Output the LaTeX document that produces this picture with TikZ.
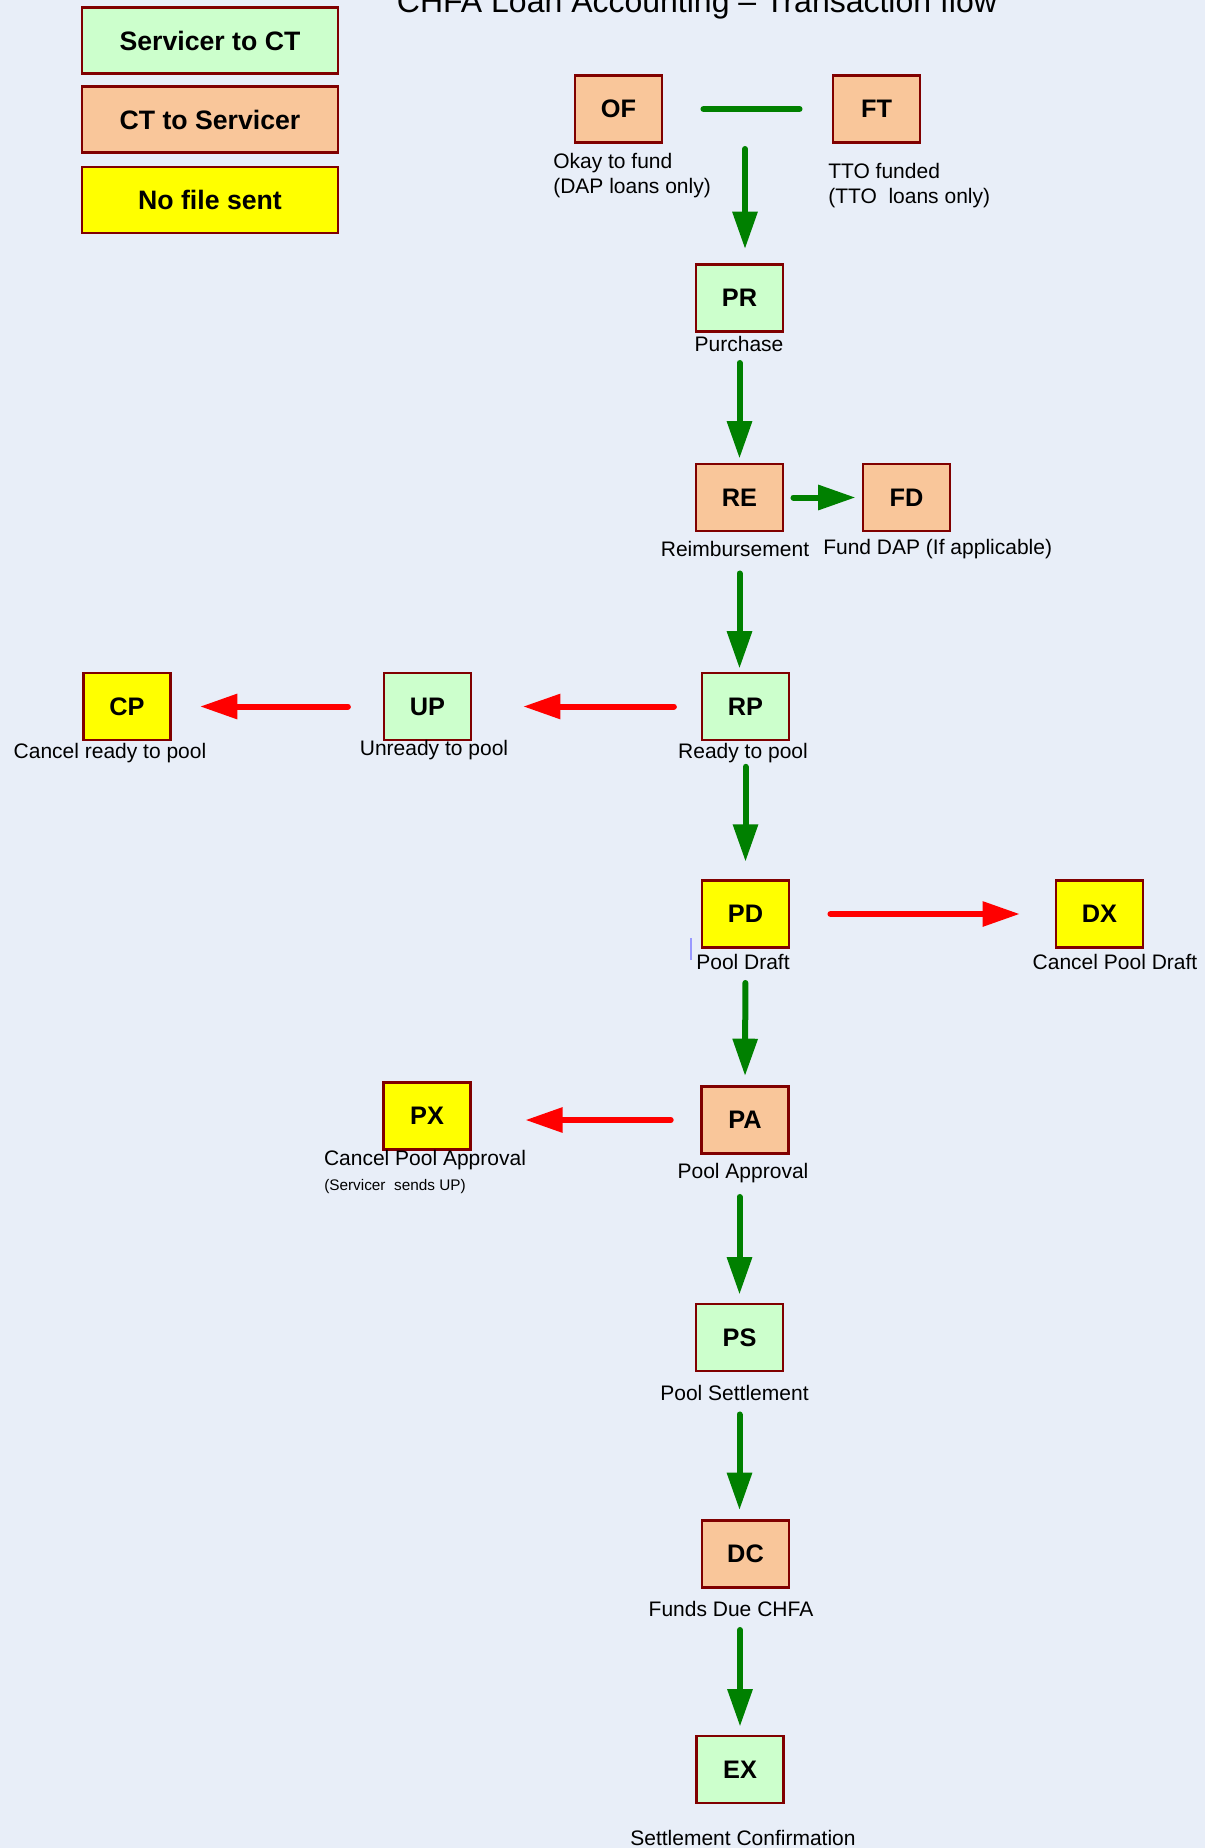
\documentclass[tikz,border=0pt]{standalone}
\usepackage{fontspec}
\setmainfont{Liberation Sans}
\usetikzlibrary{arrows.meta}

\definecolor       {pageColor}{RGB}{232, 238, 248}
\definecolor     {borderColor}{RGB}{128,   0,   0}
\definecolor   {servicerColor}{RGB}{204, 255, 204}
\definecolor         {ctColor}{RGB}{249, 198, 154}
\definecolor     {nofileColor}{RGB}{255, 255,   0}
\definecolor       {flowColor}{RGB}{  0, 128,   0}
\definecolor     {cancelColor}{RGB}{255,   0,   0}
\tikzset{
  code box/.style={draw=borderColor, line width=2.2pt, inner sep=0pt,
    minimum width=65.25pt, minimum height=50.25pt,
    font=\fontsize{19}{22}\selectfont\bfseries}}

\begin{document}
\begin{tikzpicture}[
  x=0.75pt, y=-0.75pt,
  legend box/.style  ={code box, minimum width=192pt, minimum height=49.5pt,
                       font=\fontsize{20}{24}\selectfont\bfseries},
  to ct/.style       ={fill=servicerColor},
  to servicer/.style ={fill=ctColor},
  no file/.style     ={fill=nofileColor},
  caption/.style     ={inner sep=0pt, font=\fontsize{15.75}{18.75}\selectfont},
  flow/.style        ={draw=flowColor, line width=4.5pt, line cap=round,
                       -{Triangle[length=28pt, width=18pt]}},
  cancel/.style      ={flow, draw=cancelColor},
]
%%%%%%%%%%%%%%%%%%%%%%%%%%%%%%%%%%%%%%%%%%%%%%%%%%%%%%%%%%%%%%%%%%%%%%%%%%%%%%%%%%%%%%%%%
%
%   PAGE + LEGEND
%
%%%%%%%%%%%%%%%%%%%%%%%%%%%%%%%%%%%%%%%%%%%%%%%%%%%%%%%%%%%%%%%%%%%%%%%%%%%%%%%%%%%%%%%%%
\fill[pageColor] (0,0) rectangle (1205,1848);
\useasboundingbox (0,0) rectangle (1205,1848);

\node[anchor=base, font=\fontsize{24}{28}\selectfont] (title) at (697,13)
  {CHFA Loan Accounting – Transaction flow};

\node[legend box, to ct]       (keyct)     at (210, 40.5) {Servicer to CT};
\node[legend box, to servicer] (keyserv)   at (210,119.5) {CT to Servicer};
\node[legend box, no file]     (keynofile) at (210,  200) {No file sent};

%%%%%%%%%%%%%%%%%%%%%%%%%%%%%%%%%%%%%%%%%%%%%%%%%%%%%%%%%%%%%%%%%%%%%%%%%%%%%%%%%%%%%%%%%
%
%   TRANSACTIONS
%
%%%%%%%%%%%%%%%%%%%%%%%%%%%%%%%%%%%%%%%%%%%%%%%%%%%%%%%%%%%%%%%%%%%%%%%%%%%%%%%%%%%%%%%%%
\node[code box, to servicer] (of) at (618.5, 109)  {OF};
\node[code box, to servicer] (ft) at (876.5, 109)  {FT};
\node[code box, to ct]       (pr) at (739.5, 298)  {PR};
\node[code box, to servicer] (re) at (739.5, 497.5){RE};
\node[code box, to servicer] (fd) at (906.5, 497.5){FD};
\node[code box, to ct]       (rp) at (745.5, 706.5){RP};
\node[code box, to ct]       (up) at (427.5, 706.5){UP};
\node[code box, no file]     (cp) at (127,   706.5){CP};
\node[code box, no file]     (pd) at (745.5, 914)  {PD};
\node[code box, no file]     (dx) at (1099.5,914)  {DX};
\node[code box, to servicer] (pa) at (745,  1120)  {PA};
\node[code box, no file]     (px) at (427,  1116)  {PX};
\node[code box, to ct]       (ps) at (739.5,1337.5){PS};
\node[code box, to servicer] (dc) at (745.5,1554)  {DC};
\node[code box, to ct]       (ex) at (740,  1769.5){EX};

% captions under the boxes
\node[caption, anchor=west, align=left] (oflabel) at (553,176) {Okay to fund\\(DAP loans only)};
\node[caption, anchor=west, align=left] (ftlabel) at (828,186) {TTO funded\\(TTO\ \ loans only)};
\node[caption] (prlabel) at (739,  344)  {Purchase};
\node[caption] (relabel) at (735,  549)  {Reimbursement};
\node[caption, anchor=west] (fdlabel) at (823,549) {Fund DAP (If applicable)};
\node[caption] (rplabel) at (743,  753)  {Ready to pool};
\node[caption] (uplabel) at (434,  750)  {Unready to pool};
\node[caption] (cplabel) at (110,  753)  {Cancel ready to pool};
\node[caption] (pdlabel) at (743,  962)  {Pool Draft};
\node[caption] (dxlabel) at (1115, 962)  {Cancel Pool Draft};
\node[caption] (palabel) at (743, 1173)  {Pool Approval};
\node[caption] (pxlabel) at (425, 1160)  {Cancel Pool Approval};
\node[caption, anchor=west, font=\fontsize{11.5}{14}\selectfont] (pxnote) at (324,1187)
  {(Servicer\ \ sends UP)};
\node[caption] (pslabel) at (734.5,1393) {Pool Settlement};
\node[caption] (dclabel) at (731, 1609)  {Funds Due CHFA};
\node[caption] (exlabel) at (743, 1838)  {Settlement Confirmation};

%% connectors
\coordinate (join) at (745,109);
\draw[flow, -] (of.east) -- (ft.west) [shorten <=30pt, shorten >=24pt];
\draw[flow, shorten <=30pt, shorten >=10.5pt] (join) -- (join |- pr.north);
\draw[flow, shorten <=22.5pt, shorten >=3pt] (pr.south) -- (re.north);
\draw[flow, shorten <=6.75pt, shorten >=4.5pt] (re.east) -- (fd.west);
\draw[flow, shorten <=30.75pt, shorten >=2.25pt] (re.south) -- (re.south |- rp.north);
\draw[cancel, shorten <=20pt, shorten >=38pt] (rp.west) -- (up.east);
\draw[cancel, shorten <=26pt, shorten >=21pt] (up.west) -- (cp.east);
\draw[flow, shorten <=19pt, shorten >=13pt] (rp.south) -- (pd.north);
\draw[cancel, shorten <=30pt, shorten >=26pt] (pd.east) -- (dx.west);
\draw[flow, shorten <=25.5pt, shorten >=6.75pt] (pd.south) -- (pa.north);
\draw[cancel, shorten <=22pt, shorten >=40pt] (pa.west) -- (pa.west -| px.east);
\draw[flow, shorten <=31.5pt, shorten >=6pt] (ps.north |- pa.south) -- (ps.north);
\draw[flow, shorten <=31.5pt, shorten >=6.75pt] (ps.south) -- (ps.south |- dc.north);
\draw[flow, shorten <=30.75pt, shorten >=6pt] (ex.north |- dc.south) -- (ex.north);

% stray text cursor beside "Pool Draft"
\draw[blue!40, line width=0.8pt] (691,938) -- (691,960);
\end{tikzpicture}
\end{document}
